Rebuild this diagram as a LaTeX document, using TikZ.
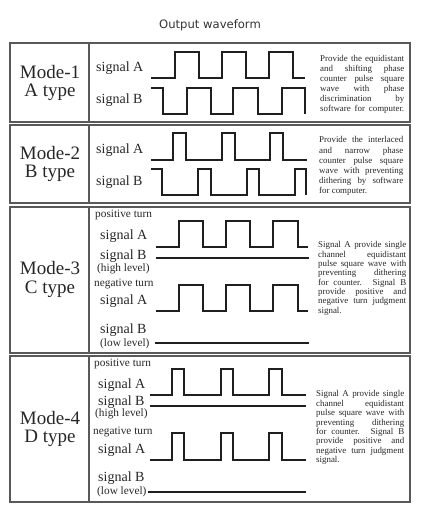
\documentclass[tikz,border=0pt]{standalone}
\usepackage{fontspec}
\setmainfont{Liberation Serif}
\newfontfamily\titlefont{DejaVu Sans}
\newcommand\dline[1]{\makebox[84pt][s]{#1}}
\newcommand\dlineb[1]{\makebox[88pt][s]{#1}}
\begin{document}
\begin{tikzpicture}[x=1pt,y=-1pt,
  frame/.style={draw=black!65,line width=1.4pt},
  wave/.style={draw=black!88,line width=1.8pt,line join=miter},
  modelbl/.style={font=\fontsize{19}{22}\selectfont,text=black!85,inner sep=0pt},
  siglbl/.style={font=\fontsize{14}{16}\selectfont,text=black!85,inner sep=0pt,anchor=west},
  smalllbl/.style={font=\fontsize{11.3}{12}\selectfont,text=black!85,inner sep=0pt,anchor=west},
  desc/.style={font=\fontsize{8.9}{10.1}\selectfont,text=black!85,inner sep=0pt,anchor=north west,align=left},
  descb/.style={desc,font=\fontsize{8.9}{9.35}\selectfont}]
\useasboundingbox (0,0) rectangle (425,513);
% title
\node[font=\titlefont\fontsize{11.6}{14}\selectfont,text=black!80,inner sep=0pt] (title) at (210,25) {Output waveform};
% frames
\draw[frame] (10,43) rectangle (410,122);
\draw[frame] (89,43) -- (89,122);
\draw[frame] (10,125) rectangle (410,203);
\draw[frame] (89,125) -- (89,203);
\draw[frame] (10,207) rectangle (410,353);
\draw[frame] (89,207) -- (89,353);
\draw[frame] (10,356) rectangle (410,502);
\draw[frame] (89,356) -- (89,502);
% ---------- Mode 1
\node[modelbl] (m1a) at (50,72) {Mode-1};
\node[modelbl] (m1b) at (50,92) {A type};
\node[siglbl] (m1sa) at (96,68) {signal A};
\node[siglbl] (m1sb) at (96,100) {signal B};
\draw[wave] (151,78) -- (175,78) -- (175,52) -- (199,52) -- (199,78) -- (222,78) -- (222,52) -- (246,52) -- (246,78) -- (269,78) -- (269,52) -- (293,52) -- (293,78) -- (305,78);
\draw[wave] (151,88) -- (163,88) -- (163,114) -- (187,114) -- (187,88) -- (211,88) -- (211,114) -- (233,114) -- (233,88) -- (258,88) -- (258,114) -- (282,114) -- (282,88) -- (305,88) -- (305,114);
\node[desc] (m1d) at (320,54.8) {\dline{Provide the equidistant}\\\dline{and shifting phase}\\\dline{counter pulse square}\\\dline{wave with phase}\\\dline{discrimination by}\\\dline{software for computer.}};
% ---------- Mode 2
\node[modelbl] (m2a) at (50,153) {Mode-2};
\node[modelbl] (m2b) at (50,173) {B type};
\node[siglbl] (m2sa) at (96,150) {signal A};
\node[siglbl] (m2sb) at (96,182) {signal B};
\draw[wave] (151,160) -- (173,160) -- (173,133) -- (186,133) -- (186,160) -- (222,160) -- (222,133) -- (235,133) -- (235,160) -- (270,160) -- (270,133) -- (283,133) -- (283,160) -- (307,160);
\draw[wave] (151,169) -- (162,169) -- (162,195) -- (198,195) -- (198,169) -- (211,169) -- (211,195) -- (247,195) -- (247,169) -- (259,169) -- (259,195) -- (295,195) -- (295,169) -- (306,169) -- (306,195);
\node[desc] (m2d) at (319,136.6) {\dline{Provide the interlaced}\\\dline{and narrow phase}\\\dline{counter pulse square}\\\dline{wave with preventing}\\\dline{dithering by software}\\for computer.};
% ---------- Mode 3
\node[modelbl] (m3a) at (50,268) {Mode-3};
\node[modelbl] (m3b) at (50,289) {C type};
\node[smalllbl] (m3p) at (95,215) {positive turn};
\node[siglbl] (m3sa) at (100,236) {signal A};
\node[siglbl] (m3sb) at (100,256) {signal B};
\node[smalllbl] (m3h) at (97,269) {(high level)};
\node[smalllbl] (m3n) at (94,284) {negative turn};
\node[siglbl] (m3sa2) at (100,301) {signal A};
\node[siglbl] (m3sb2) at (100,330) {signal B};
\node[smalllbl] (m3l) at (100,344) {(low level)};
\draw[wave] (156,247) -- (179,247) -- (179,221) -- (203,221) -- (203,247) -- (226,247) -- (226,221) -- (250,221) -- (250,247) -- (273,247) -- (273,221) -- (298,221) -- (298,247) -- (308,247);
\draw[wave] (156,258) -- (309,258);
\draw[wave] (156,311) -- (179,311) -- (179,285) -- (203,285) -- (203,311) -- (226,311) -- (226,285) -- (250,285) -- (250,311) -- (273,311) -- (273,285) -- (298,285) -- (298,311) -- (308,311);
\draw[wave] (155,343) -- (309,343);
\node[descb] (m3d) at (318,241.4) {\dlineb{Signal A provide single}\\\dlineb{channel equidistant}\\\dlineb{pulse square wave with}\\\dlineb{preventing dithering}\\\dlineb{for counter. Signal B}\\\dlineb{provide positive and}\\\dlineb{negative turn judgment}\\signal.};
% ---------- Mode 4
\node[modelbl] (m4a) at (50,418) {Mode-4};
\node[modelbl] (m4b) at (50,438) {D type};
\node[smalllbl] (m4p) at (94,364) {positive turn};
\node[siglbl] (m4sa) at (98,385) {signal A};
\node[siglbl] (m4sb) at (98,402) {signal B};
\node[smalllbl] (m4h) at (95,414) {(high level)};
\node[smalllbl] (m4n) at (93,432) {negative turn};
\node[siglbl] (m4sa2) at (98,450) {signal A};
\node[siglbl] (m4sb2) at (98,478) {signal B};
\node[smalllbl] (m4l) at (97,492) {(low level)};
\draw[wave] (150,395) -- (172,395) -- (172,369) -- (184,369) -- (184,395) -- (221,395) -- (221,369) -- (233,369) -- (233,395) -- (269,395) -- (269,369) -- (282,369) -- (282,395) -- (306,395);
\draw[wave] (150,406) -- (306,406);
\draw[wave] (150,460) -- (172,460) -- (172,433) -- (184,433) -- (184,460) -- (221,460) -- (221,433) -- (233,433) -- (233,460) -- (269,460) -- (269,433) -- (282,433) -- (282,460) -- (306,460);
\draw[wave] (148,492) -- (306,492);
\node[descb] (m4d) at (316,390.6) {\dlineb{Signal A provide single}\\\dlineb{channel equidistant}\\\dlineb{pulse square wave with}\\\dlineb{preventing dithering}\\\dlineb{for counter. Signal B}\\\dlineb{provide positive and}\\\dlineb{negative turn judgment}\\signal.};
\end{tikzpicture}
\end{document}
